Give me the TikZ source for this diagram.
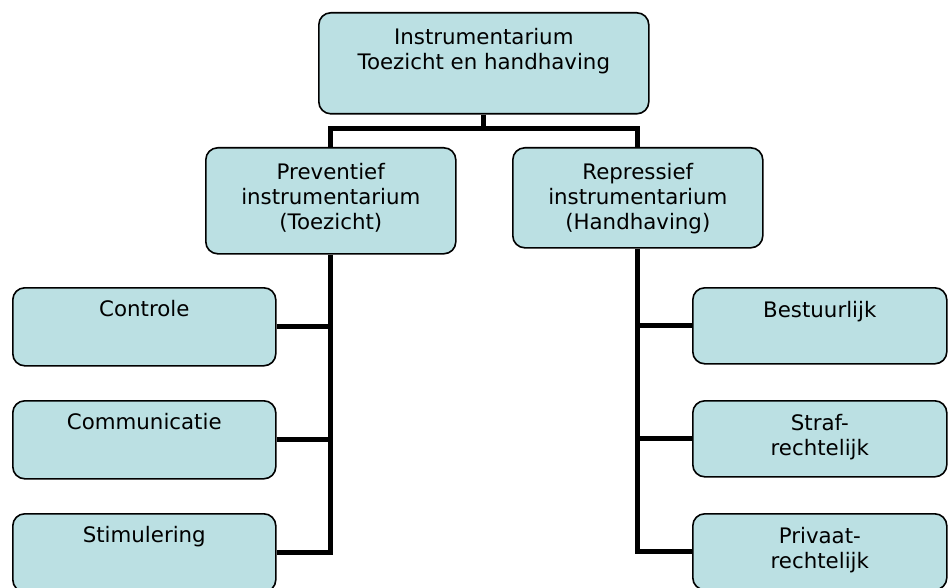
\documentclass[tikz,border=0pt]{standalone}
\usepackage{fontspec}
\setmainfont{DejaVu Sans}
\definecolor{boxfill}{RGB}{187,224,227}
\newcommand{\bxt}[4]{\parbox[t][#2][t]{#1}{\centering\vspace*{#3}#4\par}}
\begin{document}
\begin{tikzpicture}[x=0.75pt,y=-0.75pt,
  box/.style={draw=black,line width=1.2pt,fill=boxfill,rounded corners=9pt,
    inner sep=0pt,anchor=north west,font=\fontsize{16}{18.75}\selectfont},
  conn/.style={draw=black,line width=3.9pt}]
\useasboundingbox (0,0) rectangle (948,588);
\clip (0,0) rectangle (948,588);
% top
\node[box] (top) at (318,12) {\bxt{247.5pt}{75.75pt}{11.5pt}{Instrumentarium\\Toezicht en handhaving}};
% middle
\node[box] (pl) at (205,147) {\bxt{187.5pt}{79.5pt}{11.5pt}{Preventief\\instrumentarium\\(Toezicht)}};
\node[box] (pr) at (512,147) {\bxt{187.5pt}{75pt}{11.5pt}{Repressief\\instrumentarium\\(Handhaving)}};
% left leaves
\node[box] (ctrl) at (12,287) {\bxt{197.25pt}{58.5pt}{9.5pt}{Controle}};
\node[box] (comm) at (12,400) {\bxt{197.25pt}{58.5pt}{9.5pt}{Communicatie}};
\node[box] (stim) at (12,513) {\bxt{197.25pt}{58.5pt}{9.5pt}{Stimulering}};
% right leaves
\node[box] (best) at (692,287) {\bxt{190.5pt}{57pt}{10pt}{Bestuurlijk}};
\node[box] (straf) at (692,400) {\bxt{190.5pt}{57pt}{10pt}{Straf-\\rechtelijk}};
\node[box] (priv) at (692,513) {\bxt{190.5pt}{57pt}{10pt}{Privaat-\\rechtelijk}};
% connectors
\draw[conn] (top.south) -- ++(0,14) coordinate (j);
\draw[conn] (pl.north) |- (j) -| (pr.north);
\draw[conn] (pl.south) |- (stim.east);
\draw[conn] (ctrl.east) -- (ctrl.east -| pl.south);
\draw[conn] (comm.east) -- (comm.east -| pl.south);
\draw[conn] (pr.south) |- (priv.west);
\draw[conn] (best.west) -- (best.west -| pr.south);
\draw[conn] (straf.west) -- (straf.west -| pr.south);
\end{tikzpicture}
\end{document}
